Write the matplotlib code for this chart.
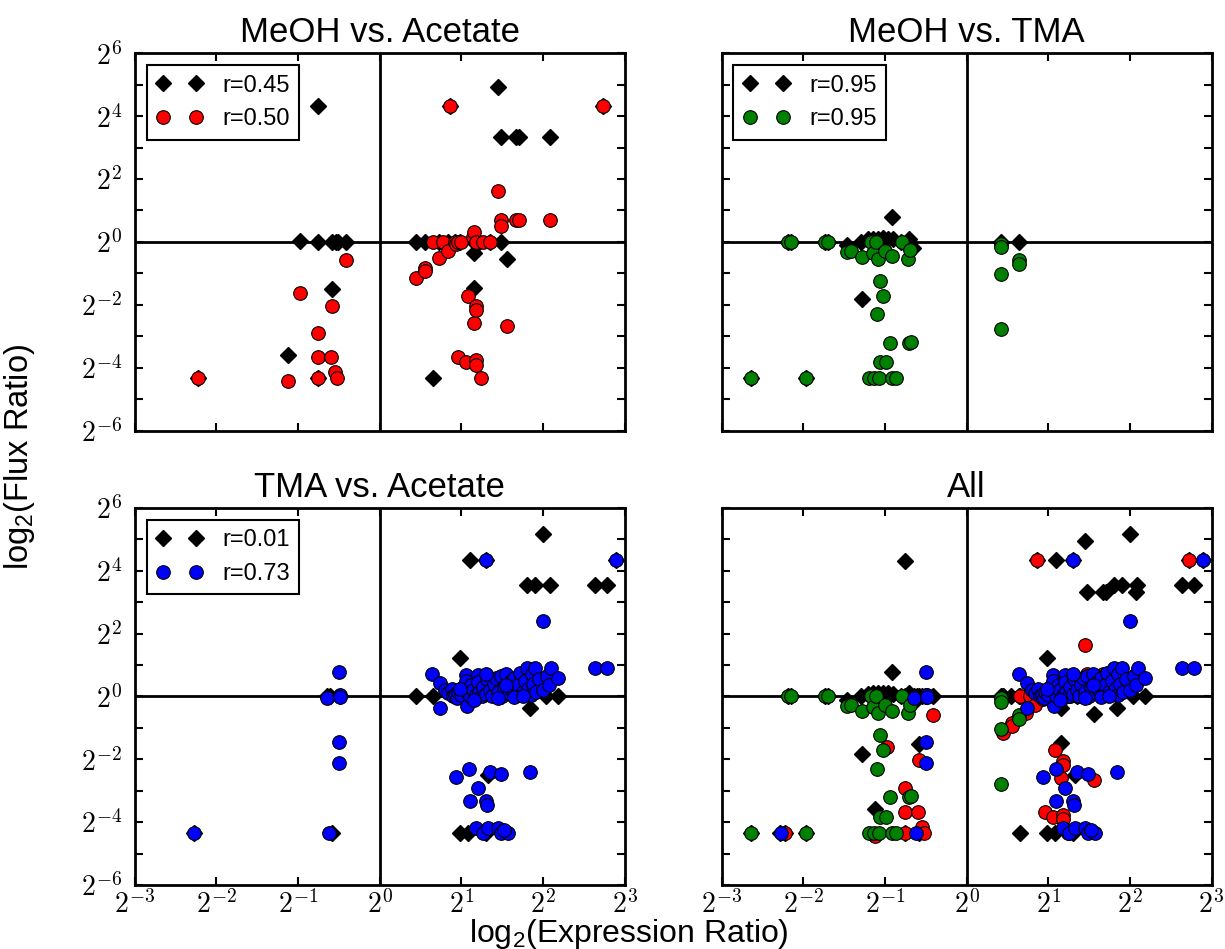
import numpy as np
import matplotlib.pyplot as plt
from matplotlib.ticker import MultipleLocator, FuncFormatter

plt.rcParams['font.family'] = ['Liberation Sans', 'DejaVu Sans']
plt.rcParams['mathtext.fontset'] = 'cm'
plt.rcParams['mathtext.rm'] = 'Liberation Sans'

# log2 ratios: flux (black diamonds) and expression (circles) vs. expression ratio
# MeOH vs. Acetate
ma_flux_x = [-2.23, -1.12, -0.97, -0.76, -0.76, -0.76, -0.58, -0.58, -0.54, -0.51,
             -0.41, 0.44, 0.55, 0.65, 0.73, 0.84, 0.86, 0.92, 0.98, 1.16,
             1.16, 1.16, 1.22, 1.35, 1.45, 1.48, 1.49, 1.56, 1.67, 1.71,
             2.08, 2.73]
ma_flux_y = [-4.33, -3.59, 0.02, 4.32, 0.0, -4.33, 0.0, -1.50, 0.0, 0.0,
             0.0, 0.0, 0.0, -4.33, 0.0, 0.0, 4.33, 0.0, 0.0, 0.0,
             -0.36, -1.47, 0.0, 0.0, 4.93, 3.33, 0.0, -0.55, 3.33, 3.33,
             3.33, 4.33]
ma_expr_x = [-2.23, -1.12, -0.97, -0.76, -0.76, -0.76, -0.60, -0.58, -0.55, -0.52,
             -0.41, 0.45, 0.56, 0.56, 0.65, 0.73, 0.78, 0.84, 0.86, 0.92,
             0.94, 0.96, 0.96, 1.00, 1.06, 1.08, 1.14, 1.16, 1.16, 1.175,
             1.175, 1.175, 1.175, 1.18, 1.245, 1.27, 1.35, 1.45, 1.48, 1.48,
             1.56, 1.67, 1.71, 2.08, 2.73]
ma_expr_y = [-4.33, -4.43, -1.61, -2.90, -3.67, -4.33, -3.67, -2.03, -4.15, -4.33,
             -0.59, -1.15, -0.84, -0.94, 0.0, -0.52, 0.0, -0.28, 4.33, 0.0,
             -0.07, 0.0, -3.67, 0.0, -3.83, -1.71, 0.17, 0.30, -2.58, -2.05,
             -2.18, -3.77, -3.90, 0.0, -4.33, 0.0, 0.0, 1.63, 0.70, 0.52,
             -2.67, 0.70, 0.70, 0.70, 4.33]

# MeOH vs. TMA
mt_flux_x = [-2.64, -2.19, -2.15, -1.97, -1.73, -1.70, -1.47, -1.29, -1.28, -1.21,
             -1.15, -1.09, -1.02, -0.96, -0.91, -0.90, -0.80, -0.70, -0.66, 0.42,
             0.64]
mt_flux_y = [-4.33, 0.0, 0.0, -4.33, 0.0, 0.0, -0.10, 0.0, -1.82, 0.08,
             0.10, 0.10, 0.12, 0.10, 0.78, 0.08, 0.0, 0.10, -0.20, 0.0,
             0.0]
mt_expr_x = [-2.64, -2.19, -2.15, -1.97, -1.73, -1.70, -1.47, -1.41, -1.28, -1.19,
             -1.17, -1.15, -1.13, -1.11, -1.10, -1.09, -1.07, -1.06, -1.06, -1.02,
             -1.00, -0.99, -0.94, -0.91, -0.91, -0.86, -0.79, -0.72, -0.71, -0.69,
             -0.68, 0.42, 0.42, 0.42, 0.42, 0.64, 0.64]
mt_expr_y = [-4.33, 0.0, 0.0, -4.33, 0.0, 0.0, -0.31, -0.28, -0.47, -4.33,
             0.0, -0.35, -4.33, 0.0, -2.30, -0.53, -4.33, -1.23, -3.83, -1.71,
             -0.28, -3.83, -3.20, -0.46, -4.33, -4.33, 0.0, -0.53, -3.20, -0.27,
             -3.17, -0.06, -0.17, -1.03, -2.77, -0.59, -0.71]

# TMA vs. Acetate
ta_flux_x = [-2.28, -0.65, -0.61, -0.58, -0.49, 0.45, 0.65, 0.98, 0.98, 1.00,
             1.08, 1.10, 1.30, 1.30, 1.33, 1.50, 1.80, 1.84, 1.90, 2.00,
             2.04, 2.09, 2.18, 2.64, 2.78, 2.89]
ta_flux_y = [-4.34, 0.0, 0.0, -4.34, 0.0, 0.0, 0.0, 1.22, -4.34, 0.0,
             -4.34, 4.35, 4.35, -4.34, -2.50, 0.0, 3.53, -0.38, 3.53, 5.17,
             0.0, 3.53, 0.0, 3.53, 3.53, 4.35]
ta_expr_x = [-2.27, -0.65, -0.62, -0.50, -0.49, -0.49, -0.50, -0.50, 1.30, 2.89,
             2.00, 2.64, 2.78, 0.93, 1.09, 1.35, 1.49, 1.84, 1.20, 1.10,
             1.30, 1.31, 1.18, 1.26, 1.33, 1.45, 1.49, 1.57, 1.52,
             0.645, 0.74, 0.74, 0.80, 0.84, 0.88, 0.90, 0.92, 0.95, 0.96,
             1.00, 1.02, 1.06, 1.06, 1.07, 1.08, 1.10, 1.12, 1.14, 1.18,
             1.20, 1.20, 1.22, 1.25, 1.27, 1.30, 1.32, 1.35, 1.38, 1.40,
             1.42, 1.45, 1.48, 1.50, 1.52, 1.55, 1.58, 1.60, 1.62, 1.65,
             1.68, 1.70, 1.72, 1.75, 1.78, 1.80, 1.82, 1.85, 1.86, 1.88,
             1.90, 1.92, 1.95, 2.00, 2.05, 2.07, 2.10, 2.18, 1.45, 1.15,
             1.30, 1.55, 0.98, 1.65, 1.75]
ta_expr_y = [-4.34, -0.06, -4.34, 0.79, 0.03, -0.03, -1.44, -2.13, 4.35, 4.35,
             2.41, 0.92, 0.92, -2.55, -2.31, -2.39, -2.48, -2.39, -2.90, -3.33,
             -3.33, -3.46, -4.20, -4.34, -4.20, -4.20, -4.34, -4.34, -4.25,
             0.72, 0.42, -0.38, 0.20, 0.10, 0.25, 0.0, 0.05, -0.05, 0.15,
             0.05, 0.30, 0.68, 0.50, -0.29, 0.10, 0.0, 0.35, 0.20, 0.05,
             0.68, 0.45, 0.15, 0.0, 0.30, 0.08, 0.55, 0.20, 0.0, 0.40,
             0.60, 0.15, 0.65, 0.0, 0.30, 0.70, 0.10, 0.45, 0.20, 0.60,
             0.05, 0.35, 0.75, 0.15, 0.50, 0.90, 0.25, 0.05, 0.70, 0.40,
             0.92, 0.15, 0.55, 0.20, 0.65, 0.35, 0.92, 0.60, -0.05, -0.10,
             0.70, 0.35, 0.25, -0.02, 0.0]

titles = ['MeOH vs. Acetate', 'MeOH vs. TMA', 'TMA vs. Acetate', 'All']
r_flux = ['r=0.45', 'r=0.95', 'r=0.01']
r_expr = ['r=0.50', 'r=0.95', 'r=0.73']
colors = ['r', 'g', 'b']

comparisons = [
    (ma_flux_x, ma_flux_y, ma_expr_x, ma_expr_y),
    (mt_flux_x, mt_flux_y, mt_expr_x, mt_expr_y),
    (ta_flux_x, ta_flux_y, ta_expr_x, ta_expr_y),
]

fig, axes = plt.subplots(2, 2, sharex=True, sharey=True, figsize=(12.25, 9.49), dpi=100)
fig.subplots_adjust(left=0.110, right=0.989, bottom=0.0674, top=0.9438,
                    wspace=0.198, hspace=0.205)
axes = axes.ravel()


def pow2(v, pos):
    return r'$2^{%d}$' % int(round(v))


def pow2_even(v, pos):
    n = int(round(v))
    return r'$2^{%d}$' % n if n % 2 == 0 else ''


def flux_points(ax, fx, fy, label=None):
    ax.plot(fx, fy, 'D', color='k', mec='k', ms=8.5, ls='none', label=label)


def expr_points(ax, ex, ey, color, label=None):
    ax.plot(ex, ey, 'o', color=color, mec='k', mew=0.8, ms=9.8, ls='none', label=label)


for i, (fx, fy, ex, ey) in enumerate(comparisons):
    ax = axes[i]
    flux_points(ax, fx, fy, r_flux[i])
    expr_points(ax, ex, ey, colors[i], r_expr[i])
    leg = ax.legend(loc='upper left', numpoints=2, fontsize=17, fancybox=False,
                    framealpha=1, edgecolor='k', borderaxespad=0.5)
    leg.get_frame().set_linewidth(1.5)

# every comparison overlaid
for fx, fy, ex, ey in comparisons:
    flux_points(axes[3], fx, fy)
for (fx, fy, ex, ey), c in zip(comparisons, colors):
    expr_points(axes[3], ex, ey, c)

for ax, title in zip(axes, titles):
    ax.axhline(0, color='k', lw=2, zorder=1)
    ax.axvline(0, color='k', lw=2, zorder=1)
    ax.set_xlim(-3, 3)
    ax.set_ylim(-6, 6)
    ax.set_title(title, fontsize=25, pad=8)
    ax.xaxis.set_major_locator(MultipleLocator(1))
    ax.yaxis.set_major_locator(MultipleLocator(1))
    ax.xaxis.set_major_formatter(FuncFormatter(pow2))
    ax.yaxis.set_major_formatter(FuncFormatter(pow2_even))
    ax.tick_params(direction='in', length=6, width=1.5, top=True, right=True,
                   labelsize=20)
    ax.tick_params(axis='x', pad=4)
    ax.tick_params(axis='y', pad=9)
    for axis in ['top', 'bottom', 'left', 'right']:
        ax.spines[axis].set_linewidth(2)

fig.text(0.513, 0.0075, r'log$_\mathrm{2}$(Expression Ratio)', fontsize=23,
         ha='center', va='baseline', math_fontfamily='custom')
fig.text(0.016, 0.519, r'log$_\mathrm{2}$(Flux Ratio)', fontsize=23.5, rotation=90,
         ha='center', va='center', math_fontfamily='custom')

fig.savefig('out.png', dpi=100)
